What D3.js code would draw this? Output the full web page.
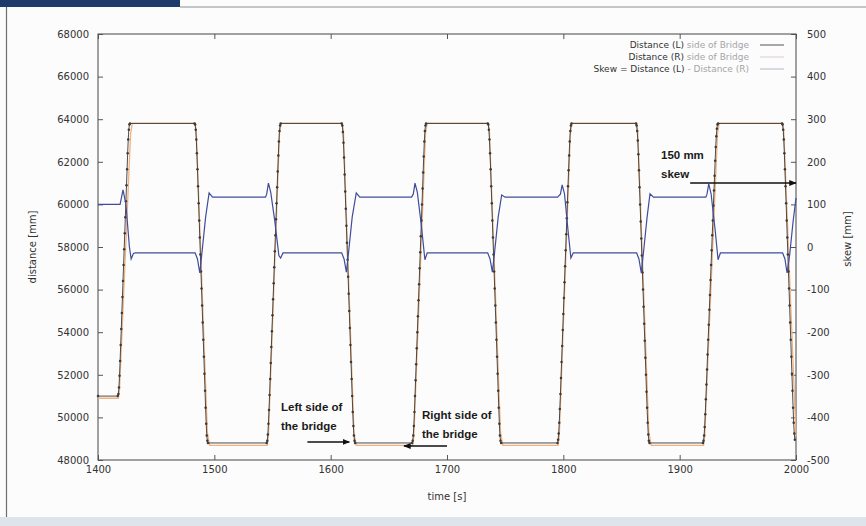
<!DOCTYPE html>
<html>
<head>
<meta charset="utf-8">
<script src="https://cdn.jsdelivr.net/npm/d3@7"></script>
<style>
  body { margin: 0; background: #fff; }
  svg { display: block; }
  text { font-family: "DejaVu Sans", sans-serif; fill: #333; }
  .tick text { font-size: 10px; fill: #333; }
  .tick line { stroke: #555; }
  .note { font-family: "Liberation Sans", Arial, sans-serif; font-weight: bold; font-size: 11.5px; fill: #1a1a1a; }
</style>
</head>
<body>
<div id="chart"></div>
<script>
// axes
const timeTicks = [1400, 1500, 1600, 1700, 1800, 1900, 2000];
const distanceTicks = [48000, 50000, 52000, 54000, 56000, 58000, 60000, 62000, 64000, 66000, 68000];
const skewTicks = [-500, -400, -300, -200, -100, 0, 100, 200, 300, 400, 500];

const legendLabels = [
    ["Distance (L)", " side of Bridge"],
    ["Distance (R)", " side of Bridge"],
    ["Skew = Distance (L)", " - Distance (R)"]
];

// Distance (L): logged every 0.5 s while the bridge moves
const sampleStep = 0.5;
const startL = [1400, 51000];
const edgesL = [
    {start: 1417,   values: [51000, 51100, 51400, 51950, 52650, 53400, 54150, 54900, 55650, 56400, 57150, 57900, 58650, 59400, 60150, 60900, 61650, 62400, 63050, 63500, 63750, 63800]},
    {start: 1483,   values: [63800, 63750, 63500, 63050, 62400, 61650, 60850, 60050, 59250, 58450, 57650, 56850, 56050, 55250, 54450, 53650, 52850, 52050, 51250, 50450, 49700, 49150, 48900, 48800]},
    {start: 1545,   values: [48800, 48900, 49200, 49700, 50350, 51050, 51800, 52550, 53300, 54050, 54800, 55550, 56300, 57050, 57800, 58550, 59300, 60050, 60800, 61550, 62300, 62950, 63450, 63700, 63800]},
    {start: 1609.5, values: [63800, 63700, 63400, 62900, 62200, 61400, 60600, 59800, 59000, 58200, 57400, 56600, 55800, 55000, 54200, 53400, 52600, 51800, 51000, 50250, 49600, 49150, 48900, 48800]},
    {start: 1670,   values: [48800, 48900, 49150, 49600, 50250, 51000, 51750, 52500, 53250, 54000, 54750, 55500, 56250, 57000, 57750, 58500, 59250, 60000, 60750, 61500, 62250, 62950, 63450, 63700, 63800]},
    {start: 1735,   values: [63800, 63750, 63500, 63050, 62400, 61650, 60850, 60050, 59250, 58450, 57650, 56850, 56050, 55250, 54450, 53650, 52850, 52050, 51250, 50450, 49700, 49150, 48900, 48800]},
    {start: 1795,   values: [48800, 48950, 49250, 49750, 50400, 51100, 51850, 52600, 53350, 54100, 54850, 55600, 56350, 57100, 57850, 58600, 59350, 60100, 60850, 61600, 62300, 62950, 63450, 63700, 63800]},
    {start: 1862.5, values: [63800, 63700, 63450, 63000, 62350, 61600, 60800, 60000, 59200, 58400, 57600, 56800, 56000, 55200, 54400, 53600, 52800, 52000, 51200, 50450, 49750, 49200, 48900, 48800]},
    {start: 1920,   values: [48800, 48900, 49150, 49550, 50150, 50850, 51550, 52250, 52950, 53650, 54350, 55050, 55750, 56450, 57150, 57850, 58550, 59250, 59950, 60650, 61350, 62050, 62700, 63200, 63550, 63750, 63800]},
    {start: 1988,   values: [63800, 63750, 63500, 63050, 62400, 61650, 60850, 60050, 59250, 58450, 57650, 56850, 56050, 55250, 54450, 53650, 52850, 52050, 51250, 50450, 49750, 49250, 48950]}
];

// Distance (R): [time s, distance mm]
const pointsR = [
    [1400, 50900], [1417.5, 50900], [1418.5, 51300], [1428, 63300], [1429.5, 63814],
    [1483.5, 63814], [1484.5, 63400], [1494, 49300], [1496, 48683],
    [1545.5, 48683], [1546.5, 49100], [1556, 63300], [1557.5, 63814],
    [1610, 63814], [1611, 63400], [1620, 49300], [1622, 48683],
    [1670.5, 48683], [1671.5, 49100], [1681.5, 63300], [1683, 63814],
    [1735.5, 63814], [1736.5, 63400], [1746, 49300], [1748, 48683],
    [1795.5, 48683], [1796.5, 49100], [1806, 63300], [1807.5, 63814],
    [1863, 63814], [1864, 63400], [1873.5, 49300], [1875.5, 48683],
    [1920.5, 48683], [1921.5, 49100], [1932.5, 63300], [1934, 63814],
    [1988.5, 63814], [1989.5, 63400], [2000, 49100]
];

// Skew = L - R: [time s, skew mm]
const pointsSkew = [
    [1400, 100], [1419, 100], [1421.5, 134], [1424, 100], [1427, 0], [1428.5, -28], [1430.5, -15], [1432, -14],
    [1483.5, -14], [1485.5, -28], [1487.5, -61], [1489.5, -10], [1492.5, 70], [1495.5, 127], [1498.5, 117],
    [1544, 117], [1545, 124], [1546.5, 150], [1548.5, 128], [1552, 60], [1555.5, -20], [1557, -26], [1559, -14],
    [1609.5, -14], [1611.5, -28], [1613.5, -59], [1615.5, -10], [1618.5, 70], [1622, 127], [1625, 117],
    [1669.5, 117], [1671, 124], [1672.5, 150], [1674.5, 128], [1678, 50], [1681, -30], [1683, -14],
    [1735, -14], [1737, -28], [1739, -59], [1741, -10], [1744, 70], [1747, 122], [1750, 117],
    [1795, 117], [1797.5, 124], [1799, 146], [1801, 125], [1804, 40], [1806.5, -26], [1808.5, -14],
    [1863, -14], [1865, -28], [1867, -61], [1869, -10], [1872, 70], [1874.5, 125], [1877.5, 117],
    [1922.5, 117], [1923.5, 124], [1925, 148], [1927, 125], [1930.5, 40], [1933, -30], [1935, -14],
    [1988.5, -14], [1990.5, -28], [1992.3, -61], [1994.5, -20], [1997.5, 60], [2000, 115]
];

/** Class drawing the bridge distance / skew chart. */
class SkewChart {

    constructor() {
        this.svgWidth = 866;
        this.svgHeight = 526;
        this.plot = {left: 98, right: 796, top: 34, bottom: 460};

        this.svg = d3.select("#chart").append("svg")
            .attr("width", this.svgWidth)
            .attr("height", this.svgHeight);

        this.xScale = d3.scaleLinear().domain([1400, 2000]).range([this.plot.left, this.plot.right]);
        this.yDist = d3.scaleLinear().domain([48000, 68000]).range([this.plot.bottom, this.plot.top]);
        this.ySkew = d3.scaleLinear().domain([-500, 500]).range([this.plot.bottom, this.plot.top]);
    }

    drawFrame() {
        // page decoration of the scanned figure
        this.svg.append("rect").attr("x", 0).attr("y", 0).attr("width", 866).attr("height", 526).attr("fill", "#fcfcfc");
        this.svg.append("rect").attr("x", 0).attr("y", 0).attr("width", 180).attr("height", 7).attr("fill", "#1d3a6b");
        this.svg.append("line").attr("x1", 180).attr("x2", 866).attr("y1", 7).attr("y2", 7)
            .attr("stroke", "#8a8f96").attr("stroke-width", 1.2);
        this.svg.append("line").attr("x1", 6.5).attr("x2", 6.5).attr("y1", 7).attr("y2", 517)
            .attr("stroke", "#6a6e74").attr("stroke-width", 1.2);
        this.svg.append("rect").attr("x", 0).attr("y", 517).attr("width", 866).attr("height", 9).attr("fill", "#dfe4ea");
    }

    drawAxes() {
        let p = this.plot;
        let plain = d => String(d);   // no thousands separator, plain hyphen minus

        let axisLeft = d3.axisLeft(this.yDist).tickValues(distanceTicks).tickFormat(plain).tickSizeInner(-5).tickSizeOuter(0).tickPadding(9);
        let axisRight = d3.axisRight(this.ySkew).tickValues(skewTicks).tickFormat(plain).tickSizeInner(-5).tickSizeOuter(0).tickPadding(11);
        let axisBottom = d3.axisBottom(this.xScale).tickValues(timeTicks).tickFormat(plain).tickSizeInner(-5).tickSizeOuter(0).tickPadding(6);
        let axisTop = d3.axisTop(this.xScale).tickValues(timeTicks).tickSizeInner(-5).tickSizeOuter(0).tickFormat("");

        this.svg.append("g").attr("transform", "translate(" + p.left + ",0)").call(axisLeft);
        this.svg.append("g").attr("transform", "translate(" + p.right + ",0)").call(axisRight);
        this.svg.append("g").attr("transform", "translate(0," + p.bottom + ")").call(axisBottom);
        this.svg.append("g").attr("transform", "translate(0," + p.top + ")").call(axisTop);
        this.svg.selectAll(".domain").remove();
        this.svg.selectAll(".tick text").attr("font-family", "DejaVu Sans, sans-serif");

        this.svg.append("rect")
            .attr("x", p.left).attr("y", p.top)
            .attr("width", p.right - p.left).attr("height", p.bottom - p.top)
            .attr("fill", "none").attr("stroke", "#555").attr("stroke-width", 1.1);

        this.svg.append("text").text("time [s]")
            .attr("x", (p.left + p.right) / 2).attr("y", 500)
            .attr("text-anchor", "middle").attr("font-size", 10);
        this.svg.append("text").text("distance [mm]")
            .attr("transform", "translate(36," + ((p.top + p.bottom) / 2) + ") rotate(-90)")
            .attr("text-anchor", "middle").attr("font-size", 10);
        this.svg.append("text").text("skew [mm]")
            .attr("transform", "translate(851," + ((p.top + p.bottom) / 2 - 8) + ") rotate(-90)")
            .attr("text-anchor", "middle").attr("font-size", 10);
    }

    drawSeries() {
        let that = this;

        let dataL = [startL];
        for (let edge of edgesL) {
            edge.values.forEach((v, i) => dataL.push([edge.start + i * sampleStep, v]));
        }

        let lineDist = d3.line().x(d => that.xScale(d[0])).y(d => that.yDist(d[1]));
        let lineSkew = d3.line().x(d => that.xScale(d[0])).y(d => that.ySkew(d[1]));

        this.svg.append("path").datum(pointsR)
            .attr("d", lineDist).attr("fill", "none")
            .attr("stroke", "#f2b27f").attr("stroke-width", 1.3);

        this.svg.append("path").datum(dataL)
            .attr("d", lineDist).attr("fill", "none")
            .attr("stroke", "#3a3a3a").attr("stroke-width", 0.9);

        this.svg.append("g").selectAll("circle").data(dataL)
            .enter().append("circle")
            .attr("cx", d => that.xScale(d[0]))
            .attr("cy", d => that.yDist(d[1]))
            .attr("r", 1.25)
            .attr("fill", "#3a3a3a");

        this.svg.append("path").datum(pointsSkew)
            .attr("d", lineSkew).attr("fill", "none")
            .attr("stroke", "#3f4c9c").attr("stroke-width", 1.2);
    }

    drawLegend() {
        let colors = ["#555", "#d9cfc8", "#b4b8c8"];
        let g = this.svg.append("g");
        legendLabels.forEach((lab, i) => {
            let y = 45 + i * 12;
            let t = g.append("text").attr("x", 749).attr("y", y + 3)
                .attr("text-anchor", "end").attr("font-size", 9);
            t.append("tspan").text(lab[0]).attr("fill", "#333");
            t.append("tspan").text(lab[1]).attr("fill", "#a5a5a5");
            g.append("line").attr("x1", 760).attr("x2", 784).attr("y1", y).attr("y2", y)
                .attr("stroke", colors[i]).attr("stroke-width", 1);
        });
    }

    drawNotes() {
        let x = this.xScale, yD = this.yDist, yS = this.ySkew;

        let defs = this.svg.append("defs");
        defs.append("marker").attr("id", "head")
            .attr("viewBox", "0 0 10 10").attr("refX", 9).attr("refY", 5)
            .attr("markerWidth", 5).attr("markerHeight", 5).attr("orient", "auto")
            .append("path").attr("d", "M0,1 L10,5 L0,9 Z").attr("fill", "#111");

        let arrow = (x1, x2, y) => this.svg.append("line")
            .attr("x1", x1).attr("x2", x2).attr("y1", y).attr("y2", y)
            .attr("stroke", "#111").attr("stroke-width", 1.5)
            .attr("marker-end", "url(#head)");

        arrow(x(1580), x(1616), yD(48850));
        arrow(x(1700), x(1663), yD(48660));
        arrow(x(1909), x(2000), yS(150));

        let note = (txt, tx, ty) => this.svg.append("text").attr("class", "note")
            .attr("x", tx).attr("y", ty).text(txt);
        note("Left side of", 281, 411);
        note("the bridge", 281, 430);
        note("Right side of", 422, 419);
        note("the bridge", 422, 438);
        note("150 mm", 661, 159);
        note("skew", 661, 178);
    }
}

let chart = new SkewChart();
chart.drawFrame();
chart.drawAxes();
chart.drawSeries();
chart.drawLegend();
chart.drawNotes();
</script>
</body>
</html>
